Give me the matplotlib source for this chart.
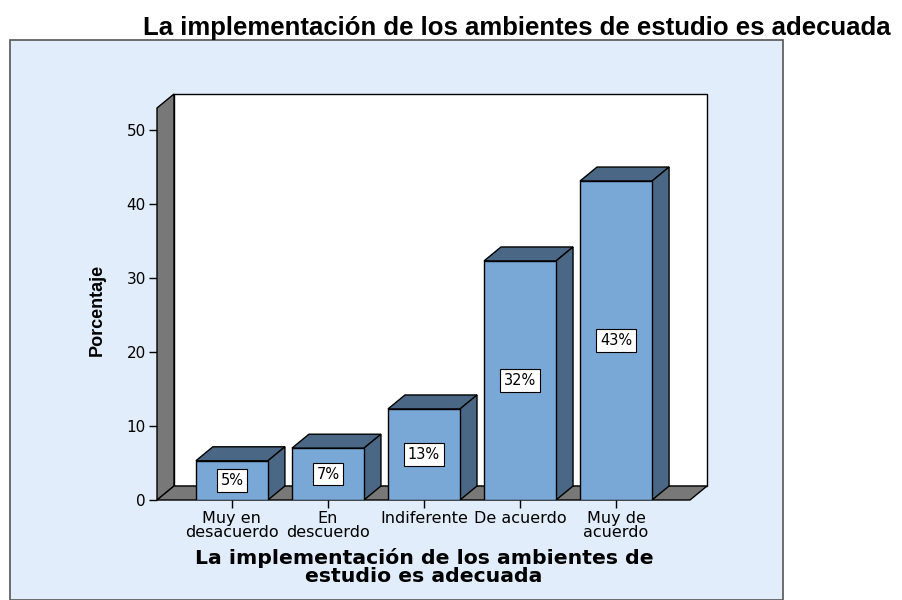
"""
SPSS-style 3D bar chart of survey answers on study environments.
"""

import matplotlib.pyplot as plt
from matplotlib.patches import Polygon, Rectangle

categories = ["Muy en\ndesacuerdo", "En\ndescuerdo", "Indiferente", "De acuerdo", "Muy de\nacuerdo"]
percentages = [5.3, 7.0, 12.3, 32.3, 43.1]
bar_labels = ["5%", "7%", "13%", "32%", "43%"]
y_ticks = [0, 10, 20, 30, 40, 50]

TITLE = "La implementación de los ambientes de estudio es adecuada"
X_LABEL = "La implementación de los ambientes de\nestudio es adecuada"

FRONT = "#7aa8d6"
DARK = "#4a6886"
WALL = "#787878"
PANEL = "#e1edfa"

W, H = 902, 600
fig = plt.figure(figsize=(W / 100, H / 100), dpi=100)

# light blue chart panel
fig.patches.append(Rectangle((10 / W, 0), 773 / W, 1 - 40 / H, transform=fig.transFigure,
                             facecolor=PANEL, edgecolor="#555555", linewidth=1.2, zorder=-5))

ax = fig.add_axes([157 / W, 100 / H, 550 / W, 406 / H], zorder=2)
ax.patch.set_visible(False)
for s in ax.spines.values():
    s.set_visible(False)

xmin, xmax = -0.78, 4.77
dx, dy = 0.177, 1.89
ytop = 54.86 - dy
bar_w = 0.75
ax.set_xlim(xmin, xmax + dx)
ax.set_ylim(0, ytop + dy)

# back wall, left wall and floor
ax.add_patch(Rectangle((xmin + dx, dy), xmax - xmin, ytop, facecolor="white",
                       edgecolor="black", linewidth=1, zorder=1, clip_on=False))
ax.add_patch(Polygon([(xmin, 0), (xmin + dx, dy), (xmin + dx, ytop + dy), (xmin, ytop)],
                     facecolor=WALL, edgecolor="black", linewidth=1, zorder=2, clip_on=False))
ax.add_patch(Polygon([(xmin, 0), (xmax, 0), (xmax + dx, dy), (xmin + dx, dy)],
                     facecolor=WALL, edgecolor="black", linewidth=1, zorder=2, clip_on=False))

for i, (val, lab) in enumerate(zip(percentages, bar_labels)):
    x0, x1 = i - bar_w / 2, i + bar_w / 2
    ax.add_patch(Polygon([(x0, val), (x1, val), (x1 + dx, val + dy), (x0 + dx, val + dy)],
                         facecolor=DARK, edgecolor="black", linewidth=1, zorder=3))
    ax.add_patch(Polygon([(x1, 0), (x1 + dx, dy), (x1 + dx, val + dy), (x1, val)],
                         facecolor=DARK, edgecolor="black", linewidth=1, zorder=3))
    ax.add_patch(Rectangle((x0, 0), bar_w, val, facecolor=FRONT, edgecolor="black",
                           linewidth=1, zorder=4))
    ax.text(i, val / 2, lab, ha="center", va="center", fontsize=10.5,
            family="DejaVu Sans", zorder=5,
            bbox=dict(boxstyle="square,pad=0.25", facecolor="white", edgecolor="black",
                      linewidth=0.8))

ax.set_yticks(y_ticks)
ax.set_yticklabels([str(t) for t in y_ticks], family="DejaVu Sans", fontsize=11)
ax.set_xticks(range(len(categories)))
ax.set_xticklabels(categories, family="DejaVu Sans", fontsize=11.5, linespacing=0.9)
ax.tick_params(axis="both", direction="out", length=6, width=1, pad=2)

fig.text(517 / W, 1 - 28 / H, TITLE, ha="center", va="center", fontsize=18.5,
         fontweight="bold", family="Liberation Sans")
fig.text(97 / W, 1 - 310 / H, "Porcentaje", ha="center", va="center", rotation=90,
         fontsize=13, fontweight="bold", family=["Liberation Sans Narrow", "Liberation Sans"])
fig.text(424 / W, 1 - 567 / H, X_LABEL, ha="center", va="center", fontsize=14.7,
         fontweight="bold", family="DejaVu Sans", linespacing=0.92)

fig.savefig("out.png", dpi=100)
